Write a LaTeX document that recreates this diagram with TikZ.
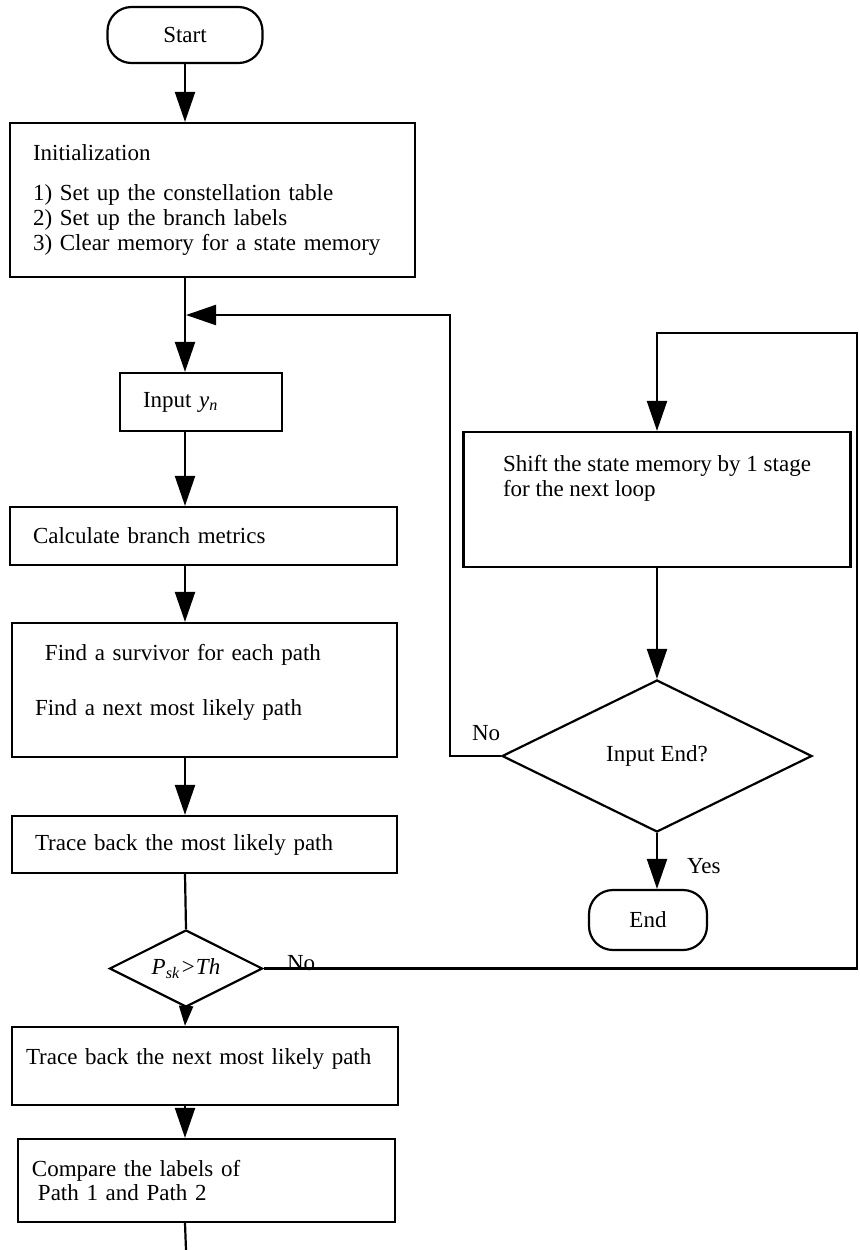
\documentclass[tikz,border=0pt]{standalone}
\usepackage{fontspec}
\setmainfont{Liberation Serif}
\usetikzlibrary{shapes.geometric,arrows.meta}
\tikzstyle{every node}=[font=\fontsize{11.5}{12.5}\selectfont]
\tikzstyle{flow}=[line width=1.1pt]
\tikzstyle{box}=[draw,flow,rectangle,align=left,inner xsep=11.5pt,inner ysep=0pt]
\tikzstyle{term}=[draw,flow,rectangle,rounded corners=12pt,inner sep=0pt]
\tikzstyle{decision}=[draw,flow,diamond,aspect=2,inner sep=0pt]

\begin{document}
\begin{tikzpicture}[x=0.5pt,y=-0.5pt,>={Triangle[length=15pt,width=10pt]}]
  \useasboundingbox (0,0) rectangle (859,1250);

  % main column
  \node[term,minimum width=77.5pt,minimum height=28pt] (start) at (185,35) {Start};
  \node[box,text width=179.5pt,minimum height=77pt] (init) at (212.5,200)
    {Initialization\\[7.5pt]1) Set up the constellation table\\2) Set up the branch labels\\3) Clear memory for a state memory};
  \node[box,text width=58pt,minimum height=29pt] (input) at (201,402)
    {Input \textit{y}\textsubscript{\textit{n}}};
  \node[box,text width=170.5pt,minimum height=29pt] (calc) at (203.5,536) {Calculate branch metrics};
  \node[box,text width=169.5pt,minimum height=67pt,text depth=38pt] (surv) at (204.5,690)
    {\hspace*{5pt}Find a survivor for each path\\[15pt]Find a next most likely path};
  \node[box,text width=169.5pt,minimum height=28.5pt] (trace) at (204.5,844.5) {Trace back the most likely path};
  \node[decision,minimum width=76.5pt,minimum height=38.5pt] (psk) at (186,968.5)
    {\textit{P}\textsubscript{\textit{sk}}\textit{>Th}};
  \node[box,inner xsep=7pt,text width=179pt,minimum height=39pt,text depth=9pt] (tnext) at (205,1066)
    {Trace back the next most likely path};
  \node[box,inner xsep=7pt,text width=174.5pt,minimum height=41.5pt] (comp) at (206.5,1180.5)
    {Compare the labels of\\\hspace*{3pt}Path 1 and Path 2};
  \coordinate (bot) at (186,1250);

  % right column
  \node[box,minimum width=193.5pt,minimum height=67.5pt,text depth=24pt] (shift) at (657,499.5)
    {Shift the state memory by 1 stage\\for the next loop};
  \node[decision,minimum width=155pt,minimum height=76pt] (endq) at (657,756) {Input End?};
  \node[term,minimum width=59pt,minimum height=30pt] (fin) at (648,920) {End};

  \node[anchor=base west] (no1) at (465,740) {No};
  \node[anchor=base west] (yes) at (680,873) {Yes};
  \node[anchor=base west] (no2) at (280,970) {No};

  \coordinate (join) at (186,315);
  \coordinate (loop) at (450,757);
  \coordinate (rt) at (857,333);

  \draw[flow,->] (start) -- (start |- init.north);
  \draw[flow,->] (start |- init.south) -- (start |- input.north);
  \draw[flow,->] (start |- input.south) -- (start |- calc.north);
  \draw[flow,->] (start |- calc.south) -- (start |- surv.north);
  \draw[flow,->] (start |- surv.south) -- (start |- trace.north);
  \draw[flow] (start |- trace.south) -- (psk.north);
  \draw[flow,-{Triangle[length=10pt,width=7pt]}] (psk.south) -- (start |- tnext.north);
  \draw[flow,->] (start |- tnext.south) -- (start |- comp.north);
  \draw[flow] (start |- comp.south) -- (bot);

  \draw[flow,->] (psk.east) -- (psk.east -| rt) -- (rt) -| (shift.north);
  \draw[flow,->] (shift.south) -- (endq.north);
  \draw[flow,->] (endq.south) -- (endq.south |- fin.north);
  \draw[flow,->] (endq.west) -- (endq.west -| loop) |- (join);
\end{tikzpicture}
\end{document}
